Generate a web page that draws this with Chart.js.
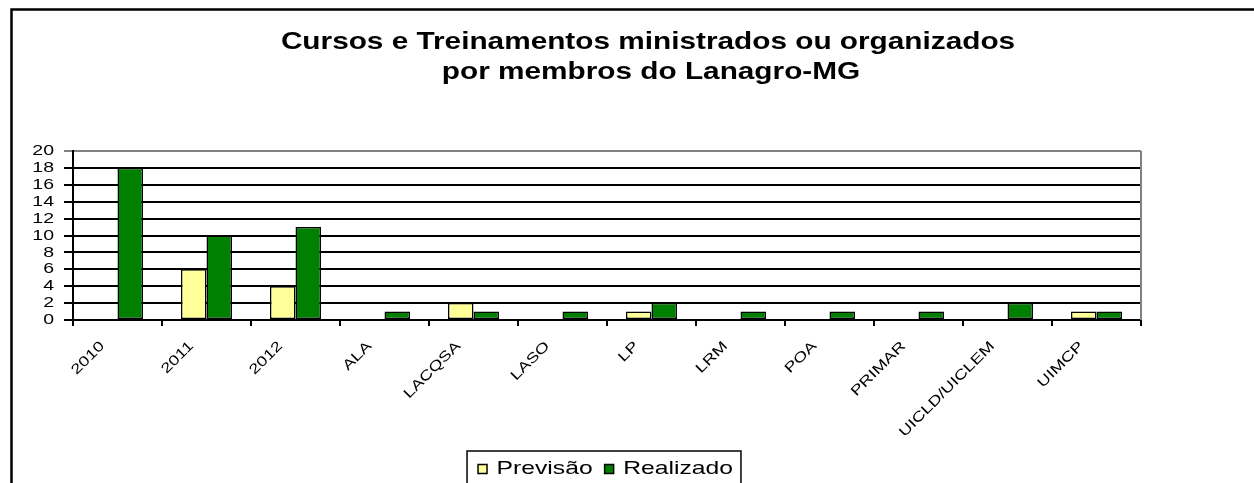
<!DOCTYPE html>
<html>
<head>
<meta charset="utf-8">
<script src="https://cdn.jsdelivr.net/npm/chart.js@4/dist/chart.umd.min.js"></script>
<style>
  html, body { margin: 0; padding: 0; background: #fff; }
</style>
</head>
<body>
<canvas id="myChart" width="1254" height="483"></canvas>
<script>
const categories = ['2010', '2011', '2012', 'ALA', 'LACQSA', 'LASO', 'LP', 'LRM', 'POA', 'PRIMAR', 'UICLD/UICLEM', 'UIMCP'];
const previsao = [0, 6, 4, 0, 2, 0, 1, 0, 0, 0, 0, 1];
const realizado = [18, 10, 11, 1, 1, 1, 2, 1, 1, 1, 2, 1];
const seriesNames = ['Previsão', 'Realizado'];
const titleLines = ['Cursos e Treinamentos ministrados ou organizados', 'por membros do Lanagro-MG'];
const yMin = 0;
const yMax = 20;
const yStep = 2;

const FONT = "'Liberation Sans', Arial, sans-serif";

const ctx = document.getElementById('myChart').getContext('2d');

// o grafico original tem o texto esticado na horizontal
let textStretch = 1.3;
const rawFill = ctx.fillText;
const rawMeasure = ctx.measureText;
ctx.fillText = function (text, x, y) {
    this.save();
    this.translate(x, y);
    this.scale(textStretch, 1);
    rawFill.call(this, text, 0, 0);
    this.restore();
};
ctx.measureText = function (text) {
    const m = rawMeasure.call(this, text);
    return {
        width: m.width * textStretch,
        actualBoundingBoxLeft: m.actualBoundingBoxLeft * textStretch,
        actualBoundingBoxRight: m.actualBoundingBoxRight * textStretch,
        actualBoundingBoxAscent: m.actualBoundingBoxAscent,
        actualBoundingBoxDescent: m.actualBoundingBoxDescent
    };
};

const shiftLegend = {
    id: 'shiftLegend',
    afterLayout(chart) {
        // legenda um pouco deslocada para a direita
        chart.legend.left += 35;
        chart.legend.right += 35;
    }
};

const extras = {
    id: 'extras',
    afterDraw(chart) {
        const c = chart.ctx;
        const a = chart.chartArea;
        c.save();

        // titulo
        c.fillStyle = '#000';
        c.font = `bold 24px ${FONT}`;
        c.textAlign = 'center';
        c.textBaseline = 'alphabetic';
        textStretch = 1.24;
        c.fillText(titleLines[0], 648, 49);
        c.fillText(titleLines[1], 651, 79);
        textStretch = 1.3;

        // borda direita da area do grafico
        c.strokeStyle = '#808080';
        c.lineWidth = 2;
        c.beginPath();
        c.moveTo(a.right, a.top);
        c.lineTo(a.right, a.bottom);
        c.stroke();

        // moldura externa
        c.strokeStyle = '#000';
        c.lineWidth = 2.5;
        c.beginPath();
        c.moveTo(11.5, 500);
        c.lineTo(11.5, 9.5);
        c.lineTo(1270, 9.5);
        c.stroke();

        // caixa da legenda
        const hb = chart.legend.legendHitBoxes;
        if (hb && hb.length) {
            const first = hb[0];
            const last = hb[hb.length - 1];
            const x0 = first.left - 11;
            const x1 = last.left + last.width + 8;
            const y0 = first.top + first.height / 2 - 18;
            c.lineWidth = 1.5;
            c.strokeRect(x0, y0, x1 - x0, 60);
        }
        c.restore();
    }
};

Chart.defaults.color = '#000';
Chart.defaults.font.family = FONT;

const myChart = new Chart(ctx, {
    type: 'bar',
    data: {
        labels: categories,
        datasets: [{
            label: seriesNames[0],
            data: previsao,
            backgroundColor: '#FFFF99',
            borderColor: '#000',
            borderWidth: 1.5,
            borderSkipped: false
        }, {
            label: seriesNames[1],
            data: realizado,
            backgroundColor: '#008000',
            borderColor: '#000',
            borderWidth: 1.5,
            borderSkipped: false
        }]
    },
    options: {
        responsive: false,
        animation: false,
        devicePixelRatio: 1,
        datasets: {
            bar: { categoryPercentage: 0.573, barPercentage: 1 }
        },
        layout: {
            padding: { left: 0, right: 113, top: 151, bottom: -5.5 }
        },
        scales: {
            x: {
                ticks: {
                    autoSkip: false,
                    maxRotation: 45,
                    minRotation: 45,
                    padding: 12,
                    labelOffset: -15,
                    font: { size: 14 }
                },
                grid: {
                    offset: true,
                    drawOnChartArea: false,
                    drawTicks: true,
                    tickLength: 6,
                    color: '#000',
                    lineWidth: 2
                },
                border: { color: '#000', width: 2 },
                afterFit: s => { s.height = 127.5; }
            },
            y: {
                min: yMin,
                max: yMax,
                ticks: {
                    stepSize: yStep,
                    autoSkip: false,
                    padding: 10,
                    font: { size: 15 }
                },
                grid: {
                    color: c => (c.tick && c.tick.value === yMax) ? '#808080' : '#000',
                    lineWidth: 2,
                    tickLength: 9
                },
                border: { color: '#000', width: 2 },
                afterFit: s => { s.width = 73; }
            }
        },
        plugins: {
            title: { display: false },
            tooltip: { enabled: false },
            legend: {
                position: 'bottom',
                labels: {
                    boxWidth: 9,
                    boxHeight: 9,
                    padding: 12,
                    font: { size: 19 },
                    color: '#000'
                }
            }
        }
    },
    plugins: [shiftLegend, extras]
});
</script>
</body>
</html>
